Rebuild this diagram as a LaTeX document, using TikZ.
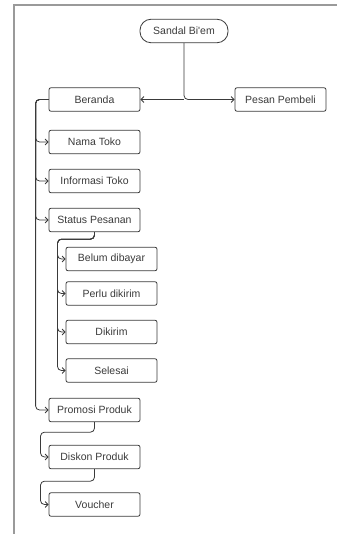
\documentclass[tikz,border=0pt]{standalone}
\usepackage{fontspec}
\setmainfont{Liberation Sans}
\usetikzlibrary{arrows.meta}
\definecolor{garis}{HTML}{3A3A3A}
\definecolor{bingkai}{HTML}{9A9A9A}

\begin{document}
\begin{tikzpicture}[x=1pt, y=-1pt,
  kotak/.style={draw=garis, line width=0.8pt, rounded corners=2pt, minimum width=91pt, minimum height=23.5pt, inner sep=0pt, font=\fontsize{10.5}{12}\selectfont, text=garis},
  hub/.style={draw=garis, line width=0.8pt, -{Straight Barb[length=3pt,width=6pt]}, rounded corners=4pt}]
\useasboundingbox (0,0) rectangle (337,534);

% Bingkai
\draw[bingkai, line width=1.5pt] (14,534) -- (14,5) -- (337,5);

% Akar
\node[kotak, rounded corners=11pt, minimum width=88pt] (sandal) at (184,31) {Sandal Bi\textquotesingle em};

% Tingkat pertama
\node[kotak] (beranda) at (94.5,99.5) {Beranda};
\node[kotak] (pesan) at (280.5,99.5) {Pesan Pembeli};
\draw[hub] (sandal.south) |- (pesan.west);
\draw[hub] (sandal.south |- beranda.east) -- (beranda.east);

% Menu beranda
\node[kotak] (nama) at (94.5,142) {Nama Toko};
\node[kotak] (info) at (94.5,181) {Informasi Toko};
\node[kotak] (status) at (94.5,220) {Status Pesanan};
\node[kotak] (promosi) at (94.5,410) {Promosi Produk};
\foreach \n in {nama, info, status, promosi}
  \draw[hub] (beranda.west) -- ++(-13,0) |- (\n.west);

% Status pesanan
\node[kotak] (belum) at (111.5,259) {Belum dibayar};
\node[kotak] (perlu) at (111.5,293.5) {Perlu dikirim};
\node[kotak] (dikirim) at (111.5,332) {Dikirim};
\node[kotak] (selesai) at (111.5,370.5) {Selesai};
\foreach \n in {belum, perlu, dikirim, selesai}
  \draw[hub] (status.south) -- ++(0,7) -- ++(-37,0) |- (\n.west);

% Promosi
\node[kotak] (diskon) at (94.5,457) {Diskon Produk};
\node[kotak] (voucher) at (94.5,504.5) {Voucher};
\draw[hub] (promosi.south) -- ++(0,10) -- ++(-54,0) |- (diskon.west);
\draw[hub] (diskon.south) -- ++(0,12) -- ++(-54,0) |- (voucher.west);
\end{tikzpicture}
\end{document}
